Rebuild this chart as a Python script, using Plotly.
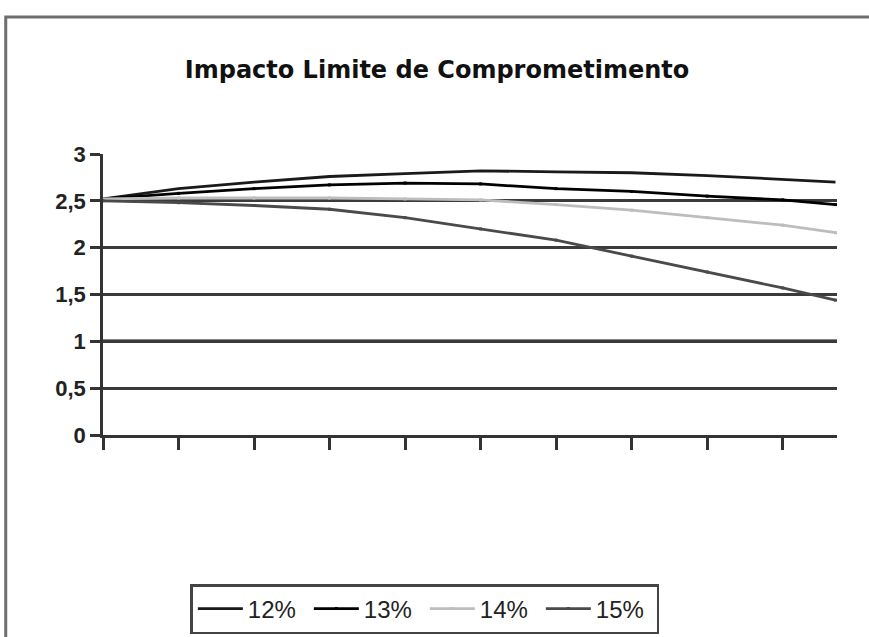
import plotly.graph_objects as go

# Horizontal positions of the sampled points (in tick units) and series values
x_pos = [0, 1, 2, 3, 4, 5, 6, 7, 8, 9, 9.7]
s12 = [2.52, 2.63, 2.70, 2.76, 2.79, 2.82, 2.81, 2.80, 2.77, 2.73, 2.70]
s13 = [2.52, 2.58, 2.63, 2.67, 2.69, 2.68, 2.63, 2.60, 2.55, 2.51, 2.46]
s14 = [2.52, 2.53, 2.53, 2.53, 2.52, 2.51, 2.46, 2.40, 2.32, 2.24, 2.16]
s15 = [2.50, 2.48, 2.45, 2.41, 2.32, 2.20, 2.08, 1.91, 1.74, 1.57, 1.44]

series_names = ["12%", "13%", "14%", "15%"]
y_ticks = [0, 0.5, 1, 1.5, 2, 2.5, 3]
x_ticks = [0, 1, 2, 3, 4, 5, 6, 7, 8, 9]

FONT = "Liberation Sans, Arial, sans-serif"

fig = go.Figure()
styles = [
    dict(color="#1a1a1a", width=2.8, marker=False),
    dict(color="#000000", width=2.8, marker=True),
    dict(color="#bdbdbd", width=2.8, marker=True),
    dict(color="#4a4a4a", width=2.8, marker=True),
]
for name, ys, st in zip(series_names, [s12, s13, s14, s15], styles):
    fig.add_trace(go.Scatter(
        x=x_pos, y=ys, name=name,
        mode="lines+markers" if st["marker"] else "lines",
        line=dict(color=st["color"], width=st["width"]),
        marker=dict(size=3, color=st["color"], symbol="square"),
    ))

# heavier reference line at the limit value 1
fig.add_hline(y=1, line=dict(color="#111111", width=3.5), layer="below")

# outer chart frame
fig.add_shape(type="rect", xref="paper", yref="paper",
              x0=-0.1325, x1=1.4, y0=-1.5, y1=1.4875,
              line=dict(color="#6e6e6e", width=3), fillcolor="rgba(0,0,0,0)")

fig.update_layout(
    width=869, height=637,
    margin=dict(l=103, r=32, t=154, b=202, autoexpand=False),
    paper_bgcolor="white", plot_bgcolor="white",
    separators=",.",
    title=dict(text="<b>Impacto Limite de Comprometimento</b>",
               x=437 / 869, xanchor="center", y=1 - 70 / 637, yanchor="middle",
               font=dict(family="DejaVu Sans, sans-serif", size=24, color="#111111")),
    xaxis=dict(range=[0, 9.72], tickvals=x_ticks, ticktext=[""] * len(x_ticks),
               showgrid=False, zeroline=False, showline=True,
               linecolor="#333333", linewidth=2.5,
               ticks="outside", ticklen=12, tickwidth=2.5, tickcolor="#333333"),
    yaxis=dict(range=[0, 3], tickvals=y_ticks, showgrid=True,
               gridcolor="#3a3a3a", gridwidth=2.5, zeroline=False,
               showline=True, linecolor="#333333", linewidth=2.5,
               ticks="outside", ticklen=10, tickwidth=2.5, tickcolor="#333333",
               tickfont=dict(family=FONT, size=22, color="#222222", weight="bold")),
    legend=dict(orientation="h", x=0.4385, xanchor="center",
                y=(435 - 584) / 281, yanchor="top",
                bordercolor="#444444", borderwidth=2.5, bgcolor="white",
                font=dict(family=FONT, size=24, color="#222222"),
                entrywidth=56, entrywidthmode="pixels", itemwidth=45),
    showlegend=True,
)

fig.write_html("out.html")
